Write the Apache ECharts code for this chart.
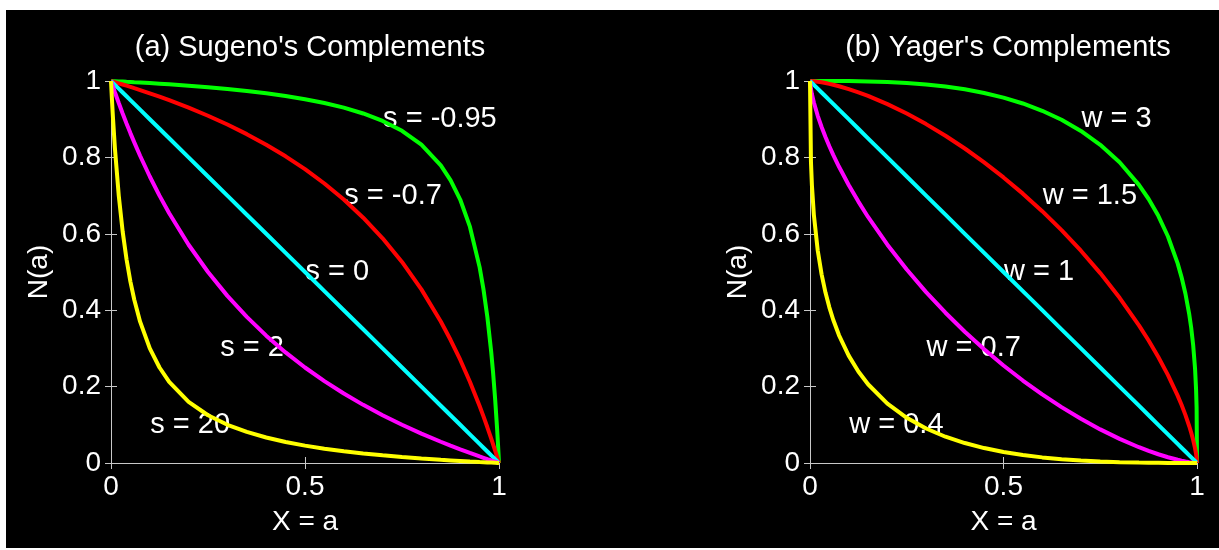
<!DOCTYPE html>
<html>
<head>
<meta charset="utf-8">
<script src="https://cdn.jsdelivr.net/npm/echarts@6/dist/echarts.min.js"></script>
<style>
  html, body { margin: 0; padding: 0; background: #fff; }
  #main { position: absolute; left: 6px; top: 10px; width: 1213px; height: 538px; }
</style>
</head>
<body>
<div id="main"></div>
<script>
// x samples shared by every curve
var xs = [0, 0.0025, 0.005, 0.01, 0.02, 0.03, 0.04, 0.05, 0.06, 0.075,
          0.1, 0.125, 0.15, 0.2, 0.25, 0.3, 0.35, 0.4, 0.45, 0.5,
          0.55, 0.6, 0.65, 0.7, 0.75, 0.8, 0.85, 0.875, 0.9, 0.925,
          0.95, 0.96, 0.97, 0.98, 0.985, 0.99, 0.995, 0.9975, 0.999, 1];

// (a) Sugeno, s = -0.95, -0.7, 0, 2, 20
var sugenoM095 = [1, 0.9999, 0.9998, 0.9995, 0.9990, 0.9985, 0.9979, 0.9974, 0.9968, 0.9960,
                  0.9945, 0.9929, 0.9913, 0.9877, 0.9836, 0.9790, 0.9738, 0.9677, 0.9607, 0.9524,
                  0.9424, 0.9302, 0.9150, 0.8955, 0.8696, 0.8333, 0.7792, 0.7407, 0.6897, 0.6186,
                  0.5128, 0.4545, 0.3822, 0.2899, 0.2335, 0.1681, 0.0913, 0.0477, 0.0196, 0];
var sugenoM07 = [1, 0.9993, 0.9985, 0.9970, 0.9939, 0.9908, 0.9877, 0.9845, 0.9812, 0.9763,
                 0.9677, 0.9589, 0.9497, 0.9302, 0.9091, 0.8861, 0.8609, 0.8333, 0.8029, 0.7692,
                 0.7317, 0.6897, 0.6422, 0.5882, 0.5263, 0.4545, 0.3704, 0.3226, 0.2703, 0.2128,
                 0.1493, 0.1220, 0.0935, 0.0637, 0.0483, 0.0326, 0.0165, 0.0083, 0.0033, 0];
var sugeno0 = [1, 0.9975, 0.995, 0.99, 0.98, 0.97, 0.96, 0.95, 0.94, 0.925,
               0.9, 0.875, 0.85, 0.8, 0.75, 0.7, 0.65, 0.6, 0.55, 0.5,
               0.45, 0.4, 0.35, 0.3, 0.25, 0.2, 0.15, 0.125, 0.1, 0.075,
               0.05, 0.04, 0.03, 0.02, 0.015, 0.01, 0.005, 0.0025, 0.001, 0];
var sugeno2 = [1, 0.9925, 0.9851, 0.9706, 0.9423, 0.9151, 0.8889, 0.8636, 0.8393, 0.8043,
               0.75, 0.7, 0.6538, 0.5714, 0.5, 0.4375, 0.3824, 0.3333, 0.2895, 0.25,
               0.2143, 0.1818, 0.1522, 0.125, 0.1, 0.0769, 0.0556, 0.0455, 0.0357, 0.0263,
               0.0172, 0.0137, 0.0102, 0.0068, 0.0051, 0.0034, 0.0017, 0.0008, 0.0003, 0];
var sugeno20 = [1, 0.95, 0.9045, 0.825, 0.7, 0.6063, 0.5333, 0.475, 0.4273, 0.37,
                0.3, 0.25, 0.2125, 0.16, 0.125, 0.1, 0.0813, 0.0667, 0.055, 0.0455,
                0.0375, 0.0308, 0.025, 0.02, 0.0156, 0.0118, 0.0083, 0.0068, 0.0053, 0.0038,
                0.0025, 0.002, 0.0015, 0.001, 0.0007, 0.0005, 0.0002, 0.0001, 0.0001, 0];

// (b) Yager, w = 3, 1.5, 1, 0.7, 0.4
var yager3 = [1, 1, 1, 1, 1, 1, 1, 1, 0.9999, 0.9999,
              0.9997, 0.9993, 0.9989, 0.9973, 0.9948, 0.9909, 0.9855, 0.9782, 0.9687, 0.9565,
              0.9412, 0.9221, 0.8985, 0.8693, 0.8331, 0.7873, 0.7280, 0.6911, 0.6471, 0.5930,
              0.5225, 0.4867, 0.4437, 0.3889, 0.3539, 0.3097, 0.2462, 0.1956, 0.1442, 0];
var yager15 = [1, 0.9999, 0.9998, 0.9993, 0.9981, 0.9965, 0.9947, 0.9925, 0.9902, 0.9863,
               0.9788, 0.9703, 0.9609, 0.9394, 0.9148, 0.8872, 0.8567, 0.8233, 0.7870, 0.7476,
               0.7051, 0.6592, 0.6096, 0.5558, 0.4971, 0.4325, 0.3604, 0.3206, 0.2775, 0.2301,
               0.1764, 0.1523, 0.1259, 0.0962, 0.0795, 0.0607, 0.0383, 0.0241, 0.0131, 0];
var yager1 = [1, 0.9975, 0.995, 0.99, 0.98, 0.97, 0.96, 0.95, 0.94, 0.925,
              0.9, 0.875, 0.85, 0.8, 0.75, 0.7, 0.65, 0.6, 0.55, 0.5,
              0.45, 0.4, 0.35, 0.3, 0.25, 0.2, 0.15, 0.125, 0.1, 0.075,
              0.05, 0.04, 0.03, 0.02, 0.015, 0.01, 0.005, 0.0025, 0.001, 0];
var yager07 = [1, 0.9785, 0.9652, 0.9436, 0.9089, 0.8796, 0.8533, 0.8292, 0.8068, 0.7754,
               0.7277, 0.6843, 0.6441, 0.5714, 0.5064, 0.4474, 0.3934, 0.3436, 0.2977, 0.2552,
               0.2159, 0.1796, 0.1462, 0.1157, 0.0880, 0.0631, 0.0413, 0.0317, 0.0229, 0.0151,
               0.0084, 0.0061, 0.0040, 0.0023, 0.0015, 0.0008, 0.0003, 0.0001, 0, 0];
var yager04 = [1, 0.7878, 0.7262, 0.6496, 0.5563, 0.4938, 0.4461, 0.4075, 0.3750, 0.3343,
               0.2811, 0.2397, 0.2062, 0.1552, 0.1182, 0.0903, 0.0688, 0.0522, 0.0391, 0.0289,
               0.0209, 0.0147, 0.0100, 0.0065, 0.0039, 0.0021, 0.0010, 0.0006, 0.0004, 0.0002,
               0.0001, 0, 0, 0, 0, 0, 0, 0, 0, 0];

// text labels: [x, y, text]
var sugenoNotes = [[0.7, 0.9, 's = -0.95'], [0.6, 0.7, 's = -0.7'], [0.5, 0.5, 's = 0'], [0.28, 0.3, 's = 2'], [0.1, 0.1, 's = 20']];
var yagerNotes = [[0.7, 0.9, 'w = 3'], [0.6, 0.7, 'w = 1.5'], [0.5, 0.5, 'w = 1'], [0.3, 0.3, 'w = 0.7'], [0.1, 0.1, 'w = 0.4']];

var xTicks = 0.5, yTicks = 0.2;
var colors = ['#00ff00', '#ff0000', '#00ffff', '#ff00ff', '#ffff00'];

var font = "'Liberation Sans', Arial, sans-serif";
var boxColor = '#c8c8c8';

function pair(ys) {
    return xs.map(function (x, i) { return [x, ys[i]]; });
}

function axis(kind, grid, main) {
    var a = {
        type: 'value', gridIndex: grid, min: 0, max: 1,
        interval: kind === 'x' ? xTicks : yTicks,
        position: kind === 'x' ? (main ? 'bottom' : 'top') : (main ? 'left' : 'right'),
        axisLine: { show: true, lineStyle: { color: boxColor, width: 1 } },
        axisTick: { show: true, inside: true, length: 6, lineStyle: { color: boxColor } },
        splitLine: { show: false },
        axisLabel: { show: main, color: '#fff', fontFamily: font, fontSize: 28, margin: 10 }
    };
    if (main) {
        a.nameLocation = 'middle';
        a.nameTextStyle = { color: '#fff', fontFamily: font, fontSize: 28 };
        if (kind === 'x') {
            a.name = 'X = a';
            a.nameGap = 45;
        } else {
            a.name = 'N(a)';
            a.nameGap = 58;
            a.nameRotate = 90;
        }
    }
    return a;
}

function lines(list, ax) {
    return list.map(function (ys, k) {
        return {
            type: 'line', xAxisIndex: ax, yAxisIndex: ax, data: pair(ys),
            showSymbol: false, symbol: 'none', z: 3,
            lineStyle: { color: colors[k], width: 4 }
        };
    });
}

function notes(list, ax) {
    return {
        type: 'scatter', xAxisIndex: ax, yAxisIndex: ax, symbolSize: 1, z: 2,
        itemStyle: { color: 'rgba(0,0,0,0)', opacity: 1 },
        label: {
            show: true, position: 'right', distance: 0, color: '#fff',
            fontFamily: font, fontSize: 29,
            formatter: function (p) { return p.data.name; }
        },
        data: list.map(function (n) { return { value: [n[0], n[1]], name: n[2] }; })
    };
}

var chart = echarts.init(document.getElementById('main'));
var option = {
    backgroundColor: '#000',
    animation: false,
    title: [
        { text: "(a) Sugeno's Complements", left: 299, top: 18, textAlign: 'center',
          textStyle: { color: '#fff', fontFamily: font, fontSize: 29, fontWeight: 'normal' } },
        { text: "(b) Yager's Complements", left: 997, top: 18, textAlign: 'center',
          textStyle: { color: '#fff', fontFamily: font, fontSize: 29, fontWeight: 'normal' } }
    ],
    grid: [
        { left: 105, top: 71, width: 388, height: 382 },
        { left: 804, top: 71, width: 387, height: 382 }
    ],
    xAxis: [axis('x', 0, true), axis('x', 0, false), axis('x', 1, true), axis('x', 1, false)],
    yAxis: [axis('y', 0, true), axis('y', 0, false), axis('y', 1, true), axis('y', 1, false)],
    series: [notes(sugenoNotes, 0), notes(yagerNotes, 2)]
        .concat(lines([sugenoM095, sugenoM07, sugeno0, sugeno2, sugeno20], 0))
        .concat(lines([yager3, yager15, yager1, yager07, yager04], 2))
};
chart.setOption(option);
</script>
</body>
</html>
